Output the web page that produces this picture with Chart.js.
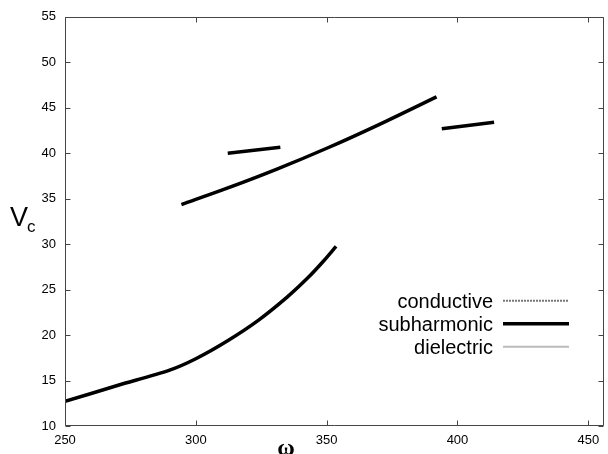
<!DOCTYPE html>
<html><head><meta charset="utf-8">
<script src="https://cdn.jsdelivr.net/npm/chart.js@4/dist/chart.umd.min.js"></script>
<style>html,body{margin:0;padding:0;background:#fff;overflow:hidden}#wrap{width:608px;height:454px}</style>
</head><body>
<div id="wrap"><canvas id="c" width="608" height="454"></canvas></div>
<script>
// ---- data ----
const seriesNames = ['conductive', 'subharmonic', 'dielectric'];
// subharmonic branch, lower curve
const lowerOmega = [250, 270, 290, 300, 312, 324, 335, 343, 349, 353.6];
const lowerV     = [12.7, 14.45, 16.15, 17.4, 19.35, 21.65, 24.2, 26.35, 28.2, 29.75];
// subharmonic branch, upper curve
const upperOmega = [294.5, 312, 331, 350.5, 370, 392];
const upperV     = [34.35, 36.15, 38.25, 40.6, 43.15, 46.2];
// short segments
const shortAOmega = [312.2, 332.3];
const shortAV     = [40.0, 40.65];
const shortBOmega = [394, 414];
const shortBV     = [42.7, 43.4];
// conductive / dielectric: no visible data
const conductiveOmega = [];
const conductiveV = [];
const dielectricOmega = [];
const dielectricV = [];
// axes
const xTicks = [250, 300, 350, 400, 450];
const yTicks = [10, 15, 20, 25, 30, 35, 40, 45, 50, 55];
const xRange = [250, 456];
const yRange = [10, 55];

const pts = (xs, ys) => xs.map((x, i) => ({x: x, y: ys[i]}));

const styles = {
  conductive:  {color: '#777777', width: 2, dash: [2, 1]},
  subharmonic: {color: '#000000', width: 3.5, dash: []},
  dielectric:  {color: '#bbbbbb', width: 2, dash: []}
};

function ds(label, data, st, legend) {
  return {
    label: label, data: data, borderColor: st.color, borderWidth: st.width,
    borderDash: st.dash, pointRadius: 0, fill: false, tension: 0.3,
    borderCapStyle: 'butt', showInLegend: legend
  };
}

const datasets = [
  ds(seriesNames[0], pts(conductiveOmega, conductiveV), styles.conductive, true),
  ds(seriesNames[1], pts(lowerOmega, lowerV), styles.subharmonic, true),
  ds(seriesNames[1], pts(upperOmega, upperV), styles.subharmonic, false),
  ds(seriesNames[1], pts(shortAOmega, shortAV), styles.subharmonic, false),
  ds(seriesNames[1], pts(shortBOmega, shortBV), styles.subharmonic, false),
  ds(seriesNames[2], pts(dielectricOmega, dielectricV), styles.dielectric, true)
];

const framePlugin = {
  id: 'frame',
  afterDatasetsDraw(chart) {
    const ctx = chart.ctx, a = chart.chartArea;
    const xs = chart.scales.x, ys = chart.scales.y;
    const L = Math.round(a.left) + 0.5, R = Math.round(a.right) - 0.5;
    const T = Math.round(a.top) + 0.5, B = Math.round(a.bottom) - 0.5;
    ctx.save();
    ctx.strokeStyle = '#444444';
    ctx.lineWidth = 1;
    ctx.beginPath();
    ctx.rect(L, T, R - L, B - T);
    const tl = 5;
    xs.ticks.forEach(t => {
      const px = Math.round(xs.getPixelForValue(t.value)) + 0.5;
      ctx.moveTo(px, B); ctx.lineTo(px, B - tl);
      ctx.moveTo(px, T); ctx.lineTo(px, T + tl);
    });
    ys.ticks.forEach(t => {
      const py = Math.round(ys.getPixelForValue(t.value)) + 0.5;
      ctx.moveTo(L, py); ctx.lineTo(L + tl, py);
      ctx.moveTo(R, py); ctx.lineTo(R - tl, py);
    });
    ctx.stroke();
    ctx.restore();
  },
  afterDraw(chart) {
    const ctx = chart.ctx;
    ctx.save();
    ctx.fillStyle = '#000';
    // y axis title V_c
    ctx.textBaseline = 'alphabetic';
    ctx.textAlign = 'left';
    ctx.font = '27px "Liberation Sans", Arial, sans-serif';
    ctx.fillText('V', 10, 226);
    ctx.font = '17px "Liberation Sans", Arial, sans-serif';
    ctx.fillText('c', 27, 232);
    // x axis title omega
    ctx.textAlign = 'center';
    ctx.font = 'bold 24px "Liberation Serif", serif';
    ctx.fillText('\u03c9', 286, 455);
    // legend
    const items = chart.data.datasets.filter(d => d.showInLegend);
    const baseY = 307.7, step = 23;
    items.forEach((d, i) => {
      const by = baseY + i * step;
      ctx.font = '20px "Liberation Sans", Arial, sans-serif';
      ctx.textAlign = 'right';
      ctx.fillStyle = '#000';
      ctx.fillText(d.label, 493, by);
      ctx.beginPath();
      ctx.strokeStyle = d.borderColor;
      ctx.lineWidth = d.borderWidth;
      ctx.setLineDash(d.borderDash || []);
      ctx.moveTo(503, by - 7);
      ctx.lineTo(569, by - 7);
      ctx.stroke();
      ctx.setLineDash([]);
    });
    ctx.restore();
  }
};

new Chart(document.getElementById('c'), {
  type: 'line',
  data: {datasets: datasets},
  options: {
    responsive: false,
    devicePixelRatio: 1,
    animation: false,
    layout: {padding: {top: 16, right: 4, left: 0, bottom: 0}},
    plugins: {legend: {display: false}, tooltip: {enabled: false}},
    scales: {
      x: {
        type: 'linear', min: xRange[0], max: xRange[1],
        afterBuildTicks: s => { s.ticks = xTicks.map(v => ({value: v})); },
        afterFit: s => { s.height = 28; },
        grid: {display: false, drawTicks: false},
        border: {display: false},
        ticks: {padding: 7, color: '#000', maxRotation: 0,
          font: {family: '"Liberation Sans", Arial, sans-serif', size: 13}}
      },
      y: {
        type: 'linear', min: yRange[0], max: yRange[1],
        afterBuildTicks: s => { s.ticks = yTicks.map(v => ({value: v})); },
        afterFit: s => { s.width = 65; },
        grid: {display: false, drawTicks: false},
        border: {display: false},
        ticks: {padding: 9, color: '#000',
          font: {family: '"Liberation Sans", Arial, sans-serif', size: 13}}
      }
    }
  },
  plugins: [framePlugin]
});
</script>
</body></html>
